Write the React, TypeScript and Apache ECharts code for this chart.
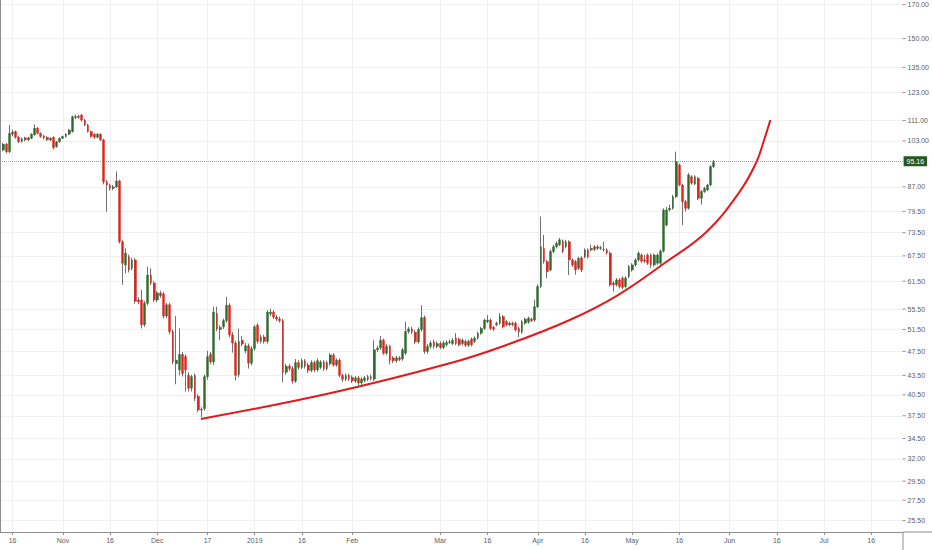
import React, { useEffect, useRef } from "react";
import * as echarts from "echarts";

type Candle = [number, number, number, number]; // open, close, low, high

const START_DATE = "2018-10-12";
const DAY_COUNT = 288;

const octCandles: Candle[] = [
  [99.6, 101.8, 99.2, 102.3], [101.8, 99.0, 98.4, 102.2], [99.0, 105.9, 98.5, 109.2], [105.6, 106.4, 104.8, 107.3],
  [106.6, 104.4, 103.8, 107.0], [104.4, 102.7, 102.2, 104.9], [102.8, 103.8, 102.4, 104.3], [104.2, 103.4, 102.9, 104.6],
  [103.4, 104.2, 103.0, 104.6], [104.0, 105.6, 103.7, 105.9], [105.3, 107.9, 105.0, 109.5], [107.9, 105.9, 105.5, 108.4],
  [105.9, 104.7, 104.2, 106.3], [104.9, 104.2, 103.6, 105.3], [104.4, 103.4, 103.0, 104.8], [103.4, 104.0, 102.9, 104.4],
  [104.4, 100.5, 99.8, 104.7], [100.9, 102.7, 100.4, 103.0], [102.7, 104.0, 102.3, 104.3],
];
const novCandles: Candle[] = [
  [104.0, 104.7, 103.7, 105.0], [104.7, 105.6, 104.3, 106.0], [105.6, 107.2, 105.2, 107.6], [106.6, 112.6, 106.2, 113.0],
  [112.2, 112.6, 111.6, 113.5], [112.8, 112.3, 111.8, 113.3], [113.3, 111.2, 110.6, 113.6], [111.2, 109.2, 108.7, 111.6],
  [109.2, 106.6, 106.2, 109.6], [106.6, 104.7, 104.2, 107.0], [105.6, 104.4, 103.8, 105.9], [104.4, 105.6, 104.0, 105.9],
  [105.6, 103.4, 102.9, 105.9], [103.4, 88.6, 87.8, 103.8], [88.6, 87.6, 79.4, 89.2], [87.6, 86.5, 85.8, 88.0],
  [86.5, 87.0, 85.9, 87.6], [87.0, 88.9, 86.6, 92.1], [88.9, 71.1, 70.6, 89.3], [71.1, 65.7, 60.7, 71.5],
  [65.3, 68.2, 63.3, 69.4], [67.3, 64.1, 63.5, 67.8], [64.5, 66.5, 64.0, 67.0], [66.5, 57.1, 56.6, 67.0],
  [57.4, 57.0, 56.5, 58.0], [57.4, 52.4, 51.7, 59.6], [52.4, 56.7, 52.0, 57.2], [56.7, 62.9, 56.3, 64.9],
  [62.9, 61.1, 60.6, 64.5], [61.1, 57.4, 57.0, 61.5],
];
const decCandles: Candle[] = [
  [57.4, 58.9, 56.9, 59.3], [58.9, 58.3, 57.8, 59.4], [58.7, 54.1, 53.6, 59.1], [54.1, 56.4, 53.7, 56.8],
  [56.4, 51.1, 50.6, 56.8], [51.1, 45.7, 45.3, 51.5], [45.4, 46.0, 42.1, 54.1], [44.4, 47.0, 43.5, 51.7],
  [47.0, 43.8, 43.3, 47.4], [46.6, 44.4, 41.0, 47.0], [43.5, 41.5, 41.0, 44.0], [41.5, 43.3, 41.0, 43.6],
  [43.5, 40.0, 39.6, 43.8], [40.3, 38.3, 38.0, 40.6], [38.3, 38.4, 37.3, 38.7], [38.5, 43.3, 38.2, 43.6],
  [43.3, 46.6, 42.8, 47.6], [47.0, 45.7, 45.3, 47.4], [45.7, 54.9, 45.2, 56.0], [54.6, 51.6, 51.2, 56.0],
  [51.5, 51.9, 49.5, 52.3], [52.0, 53.2, 51.6, 53.6], [53.2, 56.3, 52.8, 58.1], [56.3, 50.5, 50.0, 56.7],
  [50.5, 49.0, 47.3, 51.0], [49.0, 43.5, 42.7, 49.4], [43.6, 49.3, 43.2, 51.7], [49.5, 48.8, 48.4, 50.3],
  [47.6, 48.5, 47.2, 49.0], [48.5, 45.5, 44.6, 48.9], [45.5, 48.0, 45.1, 48.4],
];
const janCandles: Candle[] = [
  [48.0, 52.0, 47.6, 52.4], [52.3, 49.3, 48.9, 52.7], [49.3, 50.1, 48.9, 50.5], [50.1, 49.3, 48.9, 50.5],
  [49.3, 54.9, 48.9, 55.3], [54.5, 54.9, 54.1, 55.6], [54.9, 53.9, 53.5, 55.3], [53.9, 53.5, 53.1, 54.3],
  [53.5, 53.2, 52.8, 54.0], [53.2, 44.0, 42.4, 53.6], [44.0, 45.0, 43.6, 45.4], [45.0, 44.6, 44.2, 45.4],
  [44.6, 42.6, 42.2, 45.0], [42.6, 45.6, 42.3, 46.2], [45.6, 44.8, 44.4, 46.0], [44.8, 45.9, 44.5, 46.3],
  [45.9, 45.0, 44.6, 46.2], [45.2, 44.3, 43.9, 45.6], [44.3, 45.6, 44.0, 46.0], [45.6, 44.4, 44.0, 45.9],
  [44.4, 45.9, 44.1, 46.3], [44.8, 45.7, 44.5, 46.0], [45.7, 44.6, 44.2, 46.0], [44.6, 45.6, 44.3, 45.9],
  [45.4, 46.9, 45.1, 47.2], [46.9, 45.2, 44.9, 47.2], [45.2, 46.0, 44.9, 46.3], [46.0, 43.5, 43.2, 46.3],
  [43.5, 42.9, 42.5, 43.8], [42.9, 43.5, 42.6, 43.8], [43.5, 42.9, 42.6, 43.8],
];
const febCandles: Candle[] = [
  [43.2, 42.6, 42.3, 43.5], [42.6, 43.1, 42.3, 43.4], [43.1, 42.3, 41.6, 43.4], [42.3, 42.9, 42.0, 43.2],
  [42.7, 43.1, 42.4, 43.4], [42.9, 43.3, 42.6, 43.6], [43.3, 43.0, 42.7, 43.6], [42.9, 47.8, 42.6, 49.5],
  [47.8, 48.1, 47.4, 48.5], [48.1, 49.5, 47.8, 50.3], [49.5, 47.2, 46.9, 49.8], [47.2, 48.4, 46.9, 48.8],
  [48.4, 46.0, 45.3, 48.7], [46.4, 45.9, 45.5, 46.7], [45.9, 46.4, 45.6, 46.7], [46.4, 46.1, 45.8, 46.7],
  [46.2, 47.8, 45.9, 48.1], [47.2, 51.1, 46.9, 53.0], [51.1, 51.6, 50.7, 52.0], [51.6, 51.0, 50.6, 52.0],
  [51.0, 49.2, 48.8, 51.4], [49.2, 51.5, 48.9, 51.9], [51.5, 53.8, 51.1, 56.3], [53.8, 47.5, 47.1, 54.2],
  [47.5, 48.4, 47.1, 48.8], [48.4, 49.0, 48.0, 49.4], [49.2, 48.4, 48.0, 49.6], [48.4, 48.9, 48.1, 49.3],
];
const marCandles: Candle[] = [
  [48.9, 48.2, 47.9, 49.3], [48.2, 49.0, 47.9, 49.4], [48.7, 49.1, 48.4, 49.5], [49.1, 49.2, 48.8, 49.6],
  [48.9, 49.5, 48.6, 49.9], [49.9, 48.9, 48.6, 50.8], [49.7, 48.7, 48.4, 50.0], [48.9, 49.5, 48.6, 49.8],
  [49.3, 48.6, 48.3, 49.6], [48.6, 49.3, 48.3, 49.6], [49.7, 48.7, 48.4, 50.0], [49.3, 49.9, 49.0, 50.2],
  [49.9, 50.8, 49.6, 51.1], [50.8, 51.7, 50.5, 52.0], [51.7, 53.3, 51.4, 53.6], [53.0, 53.3, 52.7, 54.3],
  [53.3, 51.7, 51.4, 53.6], [51.9, 51.6, 51.2, 52.2], [52.4, 52.7, 52.1, 53.0], [52.7, 54.0, 52.4, 54.7],
  [54.0, 52.0, 51.7, 54.3], [53.0, 52.4, 52.1, 53.3], [52.4, 52.7, 52.1, 53.0], [52.7, 52.4, 52.1, 53.0],
  [52.7, 51.4, 51.1, 53.0], [51.7, 51.0, 50.1, 52.0], [51.0, 53.0, 50.7, 53.3], [52.7, 53.5, 52.4, 53.8],
  [52.9, 53.7, 52.6, 54.0], [53.5, 53.2, 52.9, 53.8], [53.3, 56.0, 53.0, 57.5],
];
const aprCandles: Candle[] = [
  [56.0, 60.3, 55.7, 60.8], [60.3, 69.8, 60.0, 78.0], [69.4, 66.1, 65.6, 72.9], [66.1, 63.7, 62.2, 66.5],
  [64.1, 68.6, 63.8, 69.1], [68.6, 69.8, 68.2, 70.3], [69.8, 70.7, 69.4, 71.2], [70.3, 71.6, 70.0, 72.1],
  [71.3, 68.6, 68.2, 71.7], [69.8, 71.1, 69.4, 71.6], [71.1, 66.5, 62.9, 71.5], [66.5, 65.3, 64.8, 66.9],
  [66.1, 64.1, 63.0, 66.5], [64.5, 66.9, 64.1, 67.3], [67.0, 64.1, 63.6, 67.4], [67.3, 69.0, 66.9, 69.4],
  [69.0, 67.3, 66.9, 69.4], [69.0, 69.4, 68.6, 70.3], [69.8, 69.1, 68.7, 70.2], [69.4, 69.8, 69.0, 70.2],
  [69.4, 69.6, 69.0, 70.0], [69.1, 69.0, 68.6, 71.1], [69.0, 68.2, 67.8, 69.4], [68.2, 60.7, 60.3, 68.6],
  [61.1, 60.7, 59.2, 61.5], [60.7, 61.8, 60.3, 62.2], [61.8, 60.3, 59.9, 62.2], [62.2, 60.1, 59.7, 62.6],
  [60.3, 62.2, 59.9, 62.6], [62.6, 64.9, 62.2, 65.3],
];
const mayCandles: Candle[] = [
  [64.1, 65.3, 63.7, 65.7], [65.3, 66.5, 64.9, 66.9], [66.5, 68.2, 66.1, 68.6], [67.7, 66.2, 65.8, 68.1],
  [66.5, 66.2, 65.8, 67.8], [67.7, 65.7, 65.3, 68.1], [67.7, 65.3, 64.5, 68.1], [65.3, 67.7, 64.9, 68.1],
  [65.7, 67.7, 65.3, 68.1], [65.7, 68.7, 65.3, 69.1], [68.7, 79.9, 68.3, 80.4], [75.6, 79.9, 75.2, 80.8],
  [79.9, 80.4, 79.5, 81.5], [80.4, 83.9, 80.0, 84.5], [83.9, 95.4, 83.5, 99.0], [94.3, 87.6, 87.2, 94.8],
  [87.6, 82.4, 75.6, 88.0], [82.4, 80.4, 79.5, 82.9], [80.4, 90.9, 80.0, 91.5], [90.3, 88.2, 87.7, 90.8],
  [87.9, 90.3, 87.5, 90.8], [89.8, 83.4, 82.9, 90.2], [83.4, 85.5, 81.5, 86.0], [85.5, 86.5, 85.1, 87.0],
  [86.0, 87.6, 85.6, 88.0], [87.6, 93.7, 87.2, 94.2], [93.7, 95.16, 93.3, 96.0],
];

const lastPrice = 95.16;

const priceTicks = [25.5, 27.5, 29.5, 32, 34.5, 37.5, 40.5, 43.5, 47.5, 51.5, 55.5, 61.5, 67.5, 73.5, 79.5, 87, 103, 111, 123, 135, 150, 170];
const priceMin = 24.46;
const priceMax = 172.9;

const tickDates = [
  "2018-10-16", "2018-11-01", "2018-11-16", "2018-12-01", "2018-12-17", "2019-01-01", "2019-01-16", "2019-02-01",
  "2019-03-01", "2019-03-16", "2019-04-01", "2019-04-16", "2019-05-01", "2019-05-16", "2019-06-01", "2019-06-16",
  "2019-07-01", "2019-07-16",
];
const tickLabels = ["16", "Nov", "16", "Dec", "17", "2019", "16", "Feb", "Mar", "16", "Apr", "16", "May", "16", "Jun", "16", "Jul", "16"];

// trend curve: day offset from START_DATE, price
const trendDays = [63.88, 104.88, 143.02, 161.05, 181.16, 196.52, 211.36, 224.61, 235.2, 240.5, 243.14, 244.95];
const trendPrices = [37.06, 40.73, 45.48, 48.65, 53.33, 58.45, 65.76, 73.7, 85.47, 95.23, 104.0, 111.2];

const FONT = "Liberation Sans, Arial, sans-serif";
const UP = "#2d6a2b";
const DOWN = "#e1211c";
const WICK = "#727272";
const AXIS = "#8e8e8e";
const GRID = "#eff0f3";
const LABEL = "#5a5d66";

export default function App() {
  const ref = useRef<HTMLDivElement>(null);

  useEffect(() => {
    if (!ref.current) return;
    const chart = echarts.init(ref.current, undefined, { renderer: "svg" });

    const start = Date.parse(START_DATE + "T00:00:00Z");
    const categories: string[] = [];
    for (let i = 0; i < DAY_COUNT; i++) {
      categories.push(new Date(start + i * 86400000).toISOString().slice(0, 10));
    }
    const labelMap: Record<string, string> = {};
    tickDates.forEach((d, i) => (labelMap[d] = tickLabels[i]));
    const isTick = (_idx: number, value: string) => value in labelMap;

    const candles: Candle[] = [
      ...octCandles, ...novCandles, ...decCandles, ...janCandles,
      ...febCandles, ...marCandles, ...aprCandles, ...mayCandles,
    ];
    const ln = Math.log;
    const wickData: any[] = ["-"];
    const bodyData: any[] = ["-"];
    candles.forEach(([o, c, l, h]) => {
      wickData.push([ln(o), ln(c), ln(l), ln(h)]);
      bodyData.push([ln(o), ln(c), ln(Math.min(o, c)), ln(Math.max(o, c))]);
    });

    const logTicks = priceTicks.map((p) => ln(p));
    const fmtPrice = (v: number) => {
      let best = priceTicks[0];
      let bd = Infinity;
      priceTicks.forEach((p) => {
        const d = Math.abs(ln(p) - v);
        if (d < bd) { bd = d; best = p; }
      });
      return best.toFixed(2);
    };

    const trendData = trendDays.map((d, i) => [d, ln(trendPrices[i])]);

    chart.setOption({
      animation: false,
      grid: { left: 0, right: 29, top: 0, bottom: 18, containLabel: false },
      xAxis: [
        {
          type: "category",
          data: categories,
          boundaryGap: false,
          axisLine: { show: true, lineStyle: { color: AXIS, width: 1 } },
          axisTick: { show: true, interval: isTick, length: 3, lineStyle: { color: AXIS } },
          axisLabel: {
            interval: isTick,
            formatter: (v: string) => labelMap[v] || "",
            fontSize: 7,
            fontFamily: FONT,
            color: LABEL,
            margin: 5,
          },
          splitLine: { show: true, interval: isTick, lineStyle: { color: GRID, width: 1 } },
        },
        { type: "value", min: 0, max: DAY_COUNT - 1, show: false },
      ],
      yAxis: {
        type: "value",
        position: "right",
        min: ln(priceMin),
        max: ln(priceMax),
        axisLine: { show: true, lineStyle: { color: AXIS, width: 1 } },
        axisTick: { show: false, customValues: logTicks },
        axisLabel: {
          customValues: logTicks,
          formatter: (v: number) => "{t|}{n|" + fmtPrice(v) + "}",
          rich: {
            t: { width: 3, height: 1, backgroundColor: AXIS, verticalAlign: "middle" },
            n: { fontSize: 7, fontFamily: FONT, color: LABEL, padding: [0, 0, 0, 2], verticalAlign: "middle" },
          },
          fontSize: 7,
          fontFamily: FONT,
          color: LABEL,
          margin: 0,
        },
        splitLine: { show: true, lineStyle: { color: GRID, width: 1 } },
      },
      series: [
        {
          name: "trend",
          type: "line",
          xAxisIndex: 1,
          yAxisIndex: 0,
          data: trendData,
          smooth: 0.4,
          showSymbol: false,
          symbol: "none",
          lineStyle: { color: "#e3191b", width: 2 },
          z: 1,
        },
        {
          name: "wicks",
          type: "candlestick",
          data: wickData,
          barWidth: 1,
          itemStyle: { color: WICK, color0: WICK, borderColor: WICK, borderColor0: WICK, borderWidth: 1 },
          z: 2,
        },
        {
          name: "bodies",
          type: "candlestick",
          data: bodyData,
          barWidth: 2.3,
          itemStyle: { color: UP, color0: DOWN, borderColor: UP, borderColor0: DOWN, borderWidth: 0.4 },
          z: 3,
          markLine: {
            silent: true,
            symbol: ["none", "none"],
            lineStyle: { type: "dotted", color: "#9a9a9a", width: 1 },
            label: {
              show: true,
              position: "end",
              distance: 1,
              formatter: lastPrice.toFixed(2),
              color: "#ffffff",
              backgroundColor: "#245a20",
              padding: [2, 3, 1, 3],
              fontSize: 7,
              fontFamily: FONT,
            },
            data: [{ yAxis: ln(lastPrice) }],
          },
        },
      ],
      graphic: [
        { type: "line", shape: { x1: 903, y1: 532, x2: 932, y2: 532 }, style: { stroke: AXIS, lineWidth: 1 } },
        { type: "line", shape: { x1: 903, y1: 532, x2: 903, y2: 550 }, style: { stroke: AXIS, lineWidth: 1 } },
      ],
    });

    return () => chart.dispose();
  }, []);

  return (
    <div
      ref={ref}
      style={{ position: "fixed", left: 0, top: 0, width: 932, height: 550, background: "#ffffff" }}
    />
  );
}
